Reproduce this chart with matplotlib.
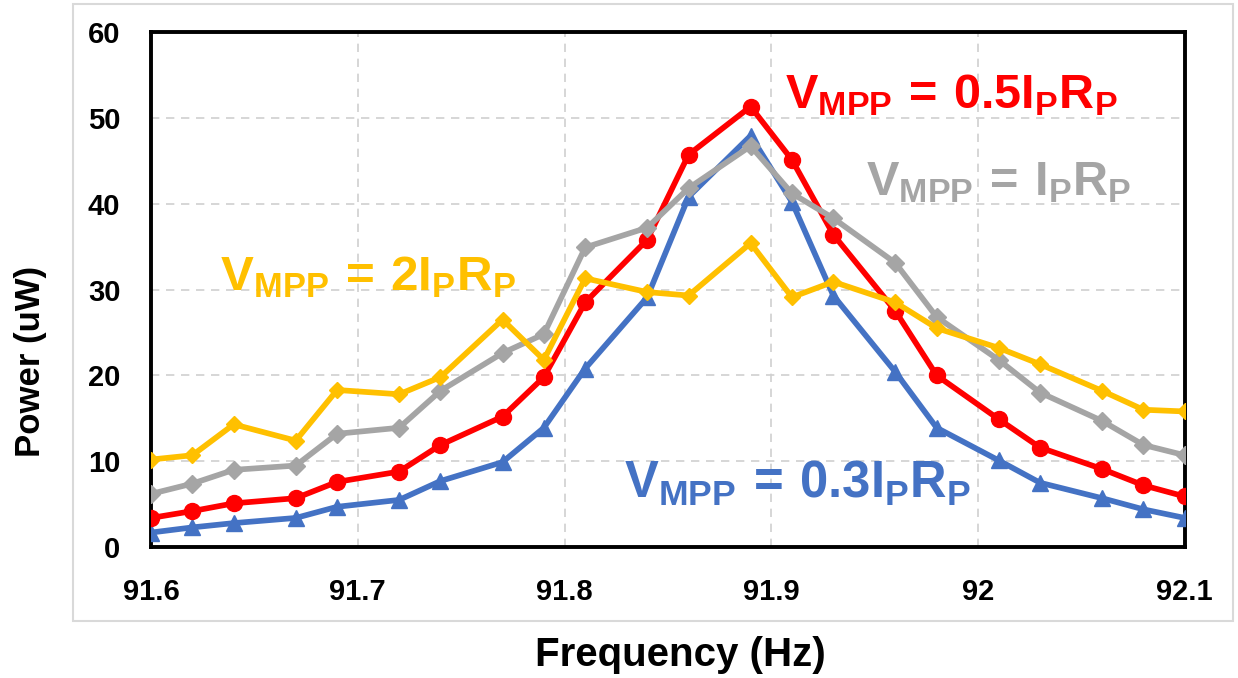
import matplotlib
matplotlib.use("Agg")
import matplotlib.pyplot as plt
from matplotlib.patches import Rectangle

# Measured output power versus excitation frequency for four MPP voltage settings
freq = [91.6, 91.62, 91.64, 91.67, 91.69, 91.72, 91.74, 91.77, 91.79, 91.81, 91.84,
        91.86, 91.89, 91.91, 91.93, 91.96, 91.98, 92.01, 92.03, 92.06, 92.08, 92.1]

p_03 = [1.7, 2.3, 2.8, 3.4, 4.7, 5.5, 7.7, 9.9, 13.9, 20.8, 29.1,
        40.8, 47.9, 40.2, 29.3, 20.4, 13.9, 10.1, 7.5, 5.7, 4.4, 3.4]
p_05 = [3.4, 4.2, 5.1, 5.7, 7.6, 8.8, 11.9, 15.2, 19.8, 28.5, 35.8,
        45.7, 51.3, 45.1, 36.4, 27.5, 20.0, 14.9, 11.6, 9.1, 7.2, 5.9]
p_10 = [6.2, 7.4, 9.0, 9.5, 13.2, 13.9, 18.2, 22.6, 24.8, 34.9, 37.2,
        41.8, 46.7, 41.2, 38.3, 33.1, 26.8, 21.8, 18.0, 14.7, 11.9, 10.7]
p_20 = [10.2, 10.7, 14.3, 12.4, 18.3, 17.8, 19.8, 26.5, 21.8, 31.3, 29.7,
        29.3, 35.4, 29.1, 30.9, 28.5, 25.5, 23.2, 21.3, 18.2, 16.0, 15.8]

x_ticks = [91.6, 91.7, 91.8, 91.9, 92.0, 92.1]
x_tick_labels = ["91.6", "91.7", "91.8", "91.9", "92", "92.1"]
y_ticks = [0, 10, 20, 30, 40, 50, 60]

labels = [r"$\mathbf{V_{MPP}\,=\,0.3I_{P}R_{P}}$",
          r"$\mathbf{V_{MPP}\,=\,0.5I_{P}R_{P}}$",
          r"$\mathbf{V_{MPP}\,=\,I_{P}R_{P}}$",
          r"$\mathbf{V_{MPP}\,=\,2I_{P}R_{P}}$"]

BLUE, RED, GRAY, GOLD = "#4472C4", "#FF0000", "#A5A5A5", "#FFC000"

plt.rcParams["font.family"] = ["Liberation Sans", "DejaVu Sans"]
plt.rcParams["font.weight"] = "bold"
plt.rcParams["mathtext.fontset"] = "custom"
plt.rcParams["mathtext.rm"] = "Liberation Sans:bold"
plt.rcParams["mathtext.bf"] = "Liberation Sans:bold"
plt.rcParams["mathtext.it"] = "Liberation Sans:bold"

fig = plt.figure(figsize=(12.38, 6.78), dpi=100)
ax = fig.add_axes([0.122, 0.193, 0.835, 0.760])

# light chart-area frame
fig.patches.append(Rectangle((0.0587, 0.084), 0.937, 0.910, transform=fig.transFigure,
                             fill=False, edgecolor="#D9D9D9", linewidth=1.5, zorder=0))

lw = 4.1
ax.plot(freq, p_03, color=BLUE, lw=lw, marker="^", ms=11.5, zorder=3)
ax.plot(freq, p_05, color=RED, lw=lw, marker="o", ms=11.5, zorder=4)
ax.plot(freq, p_10, color=GRAY, lw=lw, marker="D", ms=9, zorder=5)
ax.plot(freq, p_20, color=GOLD, lw=lw, marker="D", ms=8, zorder=6)

ax.set_xlim(91.6, 92.1)
ax.set_ylim(0, 60)
ax.set_xticks(x_ticks)
ax.set_xticklabels(x_tick_labels)
ax.set_yticks(y_ticks)
ax.tick_params(axis="both", length=0, pad=22, labelsize=21)
for lab in ax.get_xticklabels() + ax.get_yticklabels():
    lab.set_fontweight("bold")

ax.grid(True, color="#D0D0D0", linestyle=(0, (5, 4)), linewidth=1.2)
ax.set_axisbelow(True)
for sp in ax.spines.values():
    sp.set_linewidth(2.8)
    sp.set_color("black")

ax.set_xlabel("Frequency (Hz)", fontsize=29, fontweight="bold")
ax.xaxis.set_label_coords(0.512, -0.21)
ax.xaxis.label.set_va("center")
ax.set_ylabel("Power (uW)", fontsize=25, fontweight="bold")
ax.yaxis.set_label_coords(-0.117, 0.36)
ax.yaxis.label.set_va("center")

ax.text(91.829, 5.8, labels[0], color=BLUE, fontsize=36.5, ha="left", va="baseline")
ax.text(91.9066, 51.1, labels[1], color=RED, fontsize=35, ha="left", va="baseline")
ax.text(91.9457, 41.0, labels[2], color=GRAY, fontsize=35, ha="left", va="baseline")
ax.text(91.6334, 29.9, labels[3], color=GOLD, fontsize=35.5, ha="left", va="baseline")

fig.savefig("out.png", dpi=100)
